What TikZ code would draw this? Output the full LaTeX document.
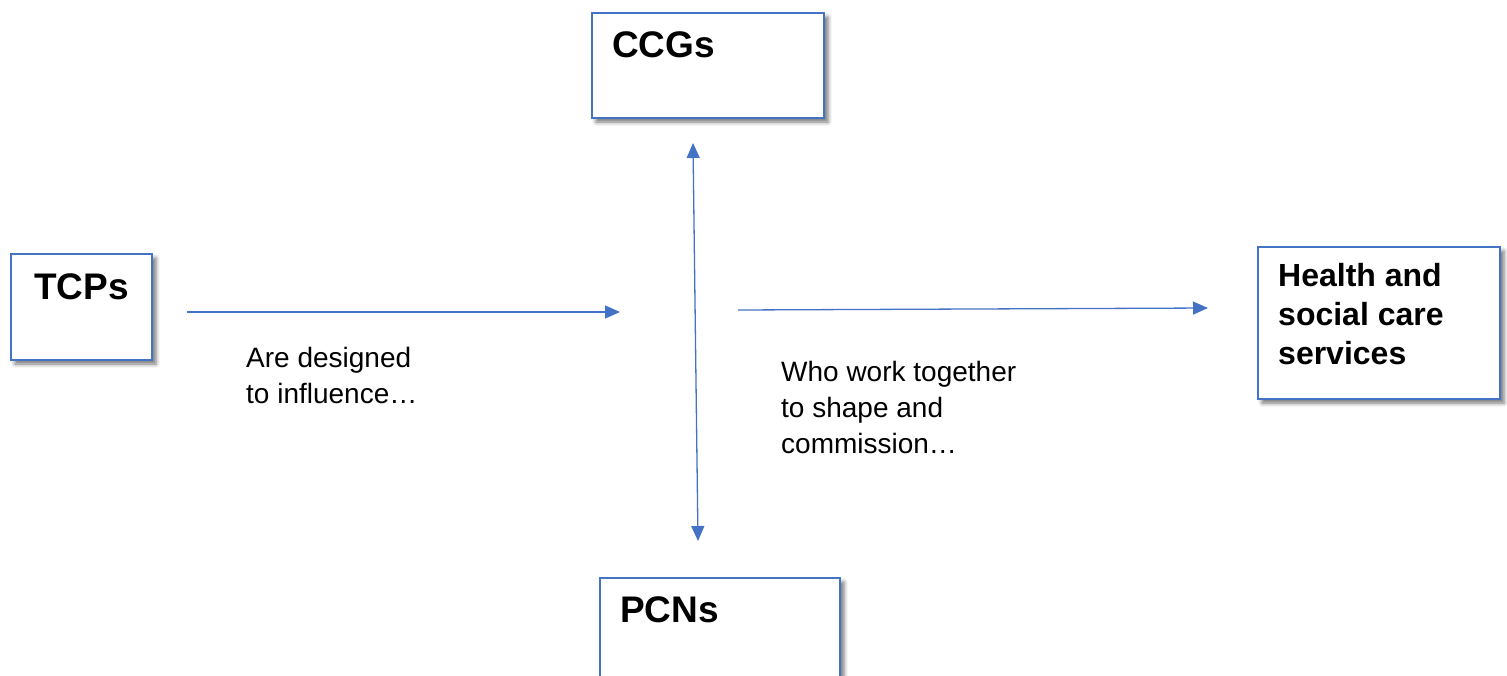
\documentclass[tikz,border=0pt]{standalone}
\usepackage{fontspec}
\setmainfont{Liberation Sans}
\usetikzlibrary{arrows.meta,shadows.blur}
\definecolor{boxblue}{HTML}{4472C4}
\tikzset{
  box/.style={draw=boxblue, line width=2pt, fill=white, rectangle, inner sep=0pt,
    anchor=north west,
    blur shadow={shadow xshift=4pt, shadow yshift=-4pt, shadow blur radius=4pt, shadow opacity=55}},
  title/.style={anchor=base west, inner sep=0pt, font=\bfseries\fontsize{37}{44}\selectfont},
  htitle/.style={anchor=base west, inner sep=0pt, align=left, font=\bfseries\fontsize{32}{39}\selectfont},
  caption/.style={anchor=base west, inner sep=0pt, align=left, font=\fontsize{28}{36}\selectfont},
  conn/.style={draw=boxblue, line width=1.3pt, -{Triangle[length=15pt,width=13pt]}},
  dconn/.style={draw=boxblue, line width=1.3pt, {Triangle[length=15pt,width=13pt]}-{Triangle[length=15pt,width=13pt]}}
}
\begin{document}
\begin{tikzpicture}[x=1pt,y=-1pt]
\useasboundingbox (0,0) rectangle (1507,675);
% boxes
\node[box, minimum width=232pt, minimum height=105pt] (ccg) at (591,12) {};
\node[box, minimum width=141pt, minimum height=106pt] (tcp) at (10,253) {};
\node[box, minimum width=242pt, minimum height=152pt] (hsc) at (1257,246) {};
\node[box, minimum width=240pt, minimum height=130pt] (pcn) at (599,577) {};
% titles
\node[title] (ccgt) at (612,57) {CCGs};
\node[title] (tcpt) at (34,299) {TCPs};
\node[title] (pcnt) at (620,622) {PCNs};
\node[htitle] (hsct) at (1278,364) {Health and\\social care\\services};
% captions
\node[caption] (cap1) at (246,403) {Are designed\\to influence\ldots};
\node[caption] (cap2) at (781,453) {Who work together\\to shape and\\commission\ldots};
% connector end points
\coordinate (a1) at (187,312);
\coordinate (a2) at (620,312);
\coordinate (v1) at (693,143);
\coordinate (v2) at (698,541);
\coordinate (b1) at (738,310);
\coordinate (b2) at (1208,308);
\draw[conn] (a1) -- (a2);
\draw[dconn] (v1) -- (v2);
\draw[conn] (b1) -- (b2);
\end{tikzpicture}
\end{document}
